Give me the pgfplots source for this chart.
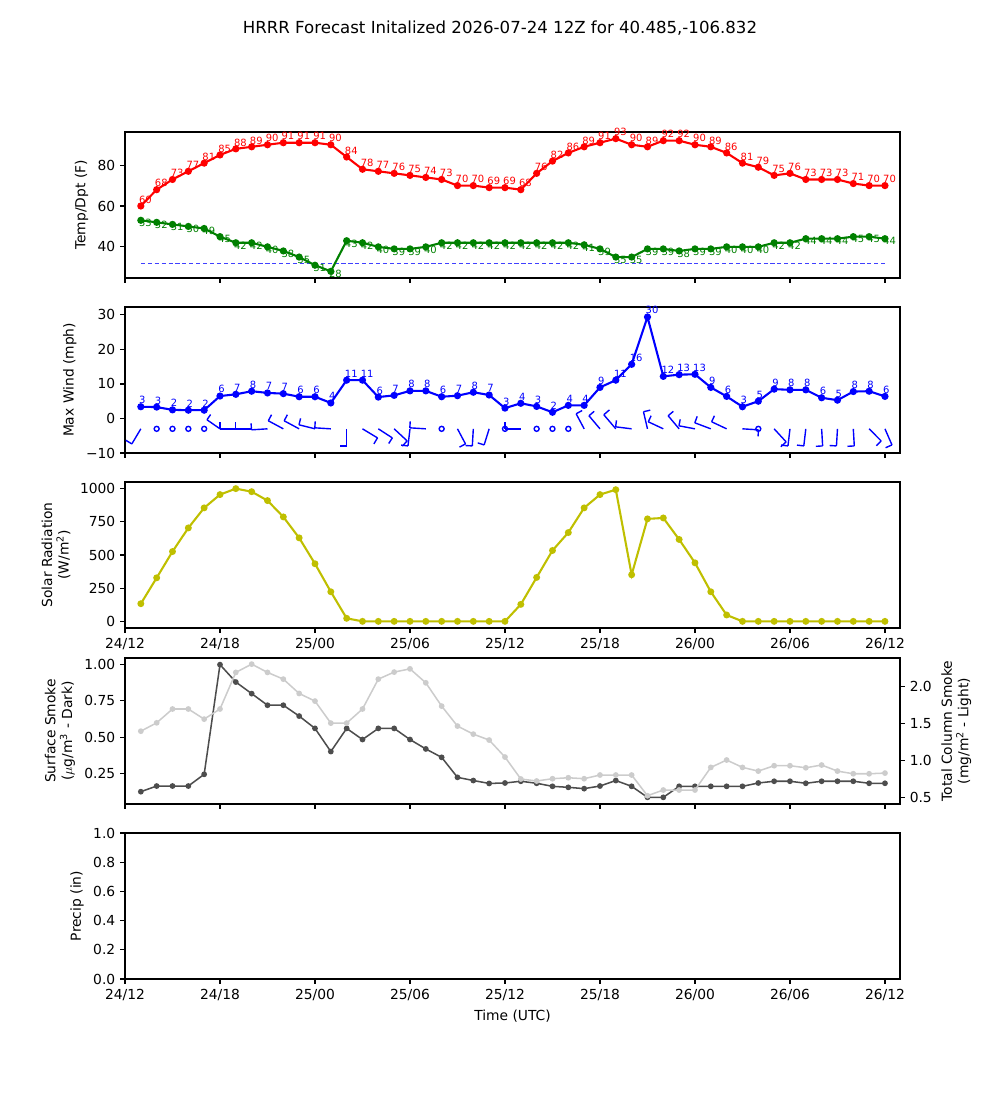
\documentclass[border=0pt]{standalone}
\usepackage{fontspec}
\setmainfont{DejaVu Sans}
\usepackage{pgfplots}
\pgfplotsset{compat=1.18}
\usepackage{pgfplotstable}

\definecolor{mplgreen}{HTML}{008000}
\definecolor{mplyellow}{HTML}{BFBF00}
\definecolor{darksmoke}{HTML}{4D4D4D}
\definecolor{lightsmoke}{HTML}{CCCCCC}
\definecolor{frzblue}{HTML}{4040FF}

\pgfplotstableread{
h T D
1 60 53
2 68 52
3 73 51
4 77 50
5 81 49
6 85 45
7 88 42
8 89 42
9 90 40
10 91 38
11 91 35
12 91 31
13 90 28
14 84 43
15 78 42
16 77 40
17 76 39
18 75 39
19 74 40
20 73 42
21 70 42
22 70 42
23 69 42
24 69 42
25 68 42
26 76 42
27 82 42
28 86 42
29 89 41
30 91 39
31 93 35
32 90 35
33 89 39
34 92 39
35 92 38
36 90 39
37 89 39
38 86 40
39 81 40
40 79 40
41 75 42
42 76 42
43 73 44
44 73 44
45 73 44
46 71 45
47 70 45
48 70 44
}\temps

\pgfplotstableread{
h y dx dy
1 -3 -9 15
6 -3 -13 -9
7 -3 -16 0
8 -3 -16 0
9 -3 -16 1
10 -3 -15 -8
11 -3 -15 -8
12 -3 -16 -4
13 -3 -16 -1
14 -3 0 17
15 -3 15 9
16 -3 14 9
17 -3 13 12
18 -3 -2 17
19 -3 -16 -1
21 -3 8 15
22 -3 -1 17
23 -3 -5 16
25 -3 -16 0
29 -3 -8 -15
30 -3 -11 -13
31 -3 -12 -14
32 -3 -16 -2
33 -3 -4 -17
34 -3 -15 -7
35 -3 -11 -13
36 -3 -16 -3
37 -3 -16 -6
38 -3 -15 -7
39 -3 16 1
41 -3 12 13
42 -3 -2 17
43 -3 -2 17
44 -3 1 17
45 -3 -1 17
46 -3 1 17
47 -3 12 12
48 -3 7 16
}\barbs

\pgfplotstableread{
h S
1 133
2 328
3 526
4 704
5 855
6 955
7 1000
8 977
9 910
10 787
11 629
12 434
13 223
14 23
15 0
16 0
17 0
18 0
19 0
20 0
21 0
22 0
23 0
24 0
25 128
26 331
27 534
28 669
29 855
30 955
31 992
32 351
33 772
34 779
35 617
36 441
37 223
38 48
39 0
40 0
41 0
42 0
43 0
44 0
45 0
46 0
47 0
48 0
}\solar

\pgfplotstableread{
h dark light
1 0.123 1.40
2 0.162 1.513
3 0.162 1.70
4 0.162 1.70
5 0.243 1.563
6 1.000 1.70
7 0.880 2.195
8 0.800 2.307
9 0.720 2.195
10 0.720 2.104
11 0.645 1.91
12 0.560 1.807
13 0.400 1.509
14 0.560 1.509
15 0.483 1.70
16 0.560 2.104
17 0.560 2.199
18 0.483 2.243
19 0.418 2.054
20 0.360 1.739
21 0.222 1.469
22 0.200 1.36
23 0.180 1.28
24 0.183 1.05
25 0.195 0.753
26 0.181 0.726
27 0.160 0.757
28 0.153 0.77
29 0.144 0.757
30 0.162 0.807
31 0.200 0.807
32 0.160 0.807
33 0.084 0.527
34 0.084 0.604
35 0.160 0.604
36 0.160 0.604
37 0.160 0.91
38 0.160 1.01
39 0.160 0.91
40 0.183 0.86
41 0.195 0.933
42 0.195 0.933
43 0.181 0.905
44 0.195 0.942
45 0.195 0.86
46 0.195 0.824
47 0.181 0.824
48 0.181 0.833
}\smoke

\tikzset{lbl/.style={font=\fontsize{7.2}{8.5}\selectfont, inner sep=0pt, xshift=-2bp}}

\pgfplotsset{
  base/.style={
    scale only axis, width=558bp, height=105.12bp,
    xmin=0, xmax=48.95,
    xtick={0,6,...,48},
    tick align=outside, tick pos=left,
    major tick length=3.5bp,
    tick style={black, line width=0.8bp},
    axis line style={line width=0.8bp},
    /pgf/number format/assume math mode=true,
    /pgf/number format/1000 sep={},
    tick label style={font=\fontsize{10}{12}\selectfont},
    label style={font=\fontsize{10}{12}\selectfont},
    ylabel style={align=center},
    anchor=south west,
  },
  nolabels/.style={xticklabels={}},
  timelabels/.style={xticklabels={24/12,24/18,25/00,25/06,25/12,25/18,26/00,26/06,26/12}},
}

\begin{document}
\begin{tikzpicture}
\path[use as bounding box] (0,0) rectangle (720bp,792bp);
\node[font=\fontsize{12}{14}\selectfont] at (360bp,771.84bp) {HRRR Forecast Initalized 2026-07-24 12Z for 40.485,-106.832};

% Panel 1: temperature / dewpoint
\begin{axis}[base, nolabels, at={(90bp,591.84bp)},
  ymin=24.75, ymax=96.25, ytick={40,60,80}, ylabel={Temp/Dpt (F)}]
\addplot[frzblue, line width=0.9bp, densely dashed] coordinates {(1,32) (48,32)};
\addplot[red, line width=1.5bp, mark=*, mark size=1.8bp, point meta=y,
  nodes near coords, every node near coord/.style={lbl, text=red, anchor=base west, yshift=2bp}]
  table[x=h, y=T] {\temps};
\addplot[mplgreen, line width=1.5bp, mark=*, mark size=1.8bp, point meta=y,
  nodes near coords, every node near coord/.style={lbl, text=mplgreen, anchor=north west, yshift=1.5bp}]
  table[x=h, y=D] {\temps};
\end{axis}

% Panel 2: wind
\begin{axis}[base, nolabels, at={(90bp,465.84bp)},
  ymin=-10, ymax=32.3, ytick={-10,0,10,20,30}, yticklabels={−10,0,10,20,30},
  ylabel={Max Wind (mph)}]
\addplot[blue, line width=1.5bp, mark=*, mark size=1.8bp, point meta=explicit symbolic,
  nodes near coords, every node near coord/.style={lbl, text=blue, anchor=base west, yshift=2.2bp}]
  coordinates {(1,3.4)[3] (2,3.3)[3] (3,2.5)[2] (4,2.4)[2] (5,2.4)[2] (6,6.5)[6] (7,7.0)[7] (8,7.9)[8]
  (9,7.4)[7] (10,7.2)[7] (11,6.3)[6] (12,6.3)[6] (13,4.5)[4] (14,11.1)[11] (15,11.1)[11] (16,6.2)[6]
  (17,6.7)[7] (18,8.0)[8] (19,8.0)[8] (20,6.3)[6] (21,6.6)[7] (22,7.6)[8] (23,6.8)[7] (24,3.0)[3]
  (25,4.4)[4] (26,3.5)[3] (27,1.8)[2] (28,3.8)[4] (29,3.8)[4] (30,9.0)[9] (31,11.1)[11] (32,15.7)[16]
  (33,29.4)[30] (34,12.2)[12] (35,12.7)[13] (36,12.8)[13] (37,9.0)[9] (38,6.4)[6] (39,3.4)[3] (40,5.0)[5]
  (41,8.5)[9] (42,8.3)[8] (43,8.3)[8] (44,6.0)[6] (45,5.3)[5] (46,7.8)[8] (47,7.9)[8] (48,6.4)[6]};
\addplot[blue, line width=1bp, quiver={u={\thisrow{dx}/15.833}, v={-\thisrow{dy}/3.433}}]
  table[x=h, y=y] {\barbs};
\addplot[blue, line width=1bp, quiver={u={-0.4*\thisrow{dy}/15.833}, v={-0.4*\thisrow{dx}/3.433}}]
  table[x expr={\thisrow{h}+\thisrow{dx}/15.833}, y expr={\thisrow{y}-\thisrow{dy}/3.433}] {\barbs};
\addplot[blue, only marks, mark=o, mark size=1.8bp, mark options={line width=1bp}]
  coordinates {(2,-3) (3,-3) (4,-3) (5,-3) (20,-3) (24,-3) (26,-3) (27,-3) (28,-3) (40,-3)};
\end{axis}

% Panel 3: solar
\begin{axis}[base, timelabels, at={(90bp,339.84bp)},
  ymin=-50, ymax=1050, ytick={0,250,500,750,1000},
  ylabel={Solar Radiation\\(W/m\textsuperscript{2})}]
\addplot[mplyellow, line width=1.5bp, mark=*, mark size=1.7bp] table[x=h, y=S] {\solar};
\end{axis}

% Panel 4: smoke
\begin{axis}[base, nolabels, at={(90bp,213.12bp)},
  ymin=0.038, ymax=1.046, ytick={0.25,0.5,0.75,1}, yticklabels={0.25,0.50,0.75,1.00},
  ylabel={Surface Smoke\\($\mu$g/m\textsuperscript{3} - Dark)}]
\addplot[darksmoke, line width=1.1bp, mark=*, mark size=1.5bp] table[x=h, y=dark] {\smoke};
\end{axis}
\begin{axis}[base, nolabels, at={(90bp,213.12bp)}, axis x line=none, axis y line*=right, ytick pos=right,
  ymin=0.415, ymax=2.39, ytick={0.5,1,1.5,2}, yticklabels={0.5,1.0,1.5,2.0},
  ylabel={Total Column Smoke\\(mg/m\textsuperscript{2} - Light)}]
\addplot[lightsmoke, line width=1.1bp, mark=*, mark size=1.5bp] table[x=h, y=light] {\smoke};
\end{axis}

% Panel 5: precip
\begin{axis}[base, timelabels, at={(90bp,87.12bp)},
  ymin=0, ymax=1, ytick={0,0.2,0.4,0.6,0.8,1}, yticklabels={0.0,0.2,0.4,0.6,0.8,1.0},
  ylabel={Precip (in)}, xlabel={Time (UTC)}]
\end{axis}
\end{tikzpicture}
\end{document}
